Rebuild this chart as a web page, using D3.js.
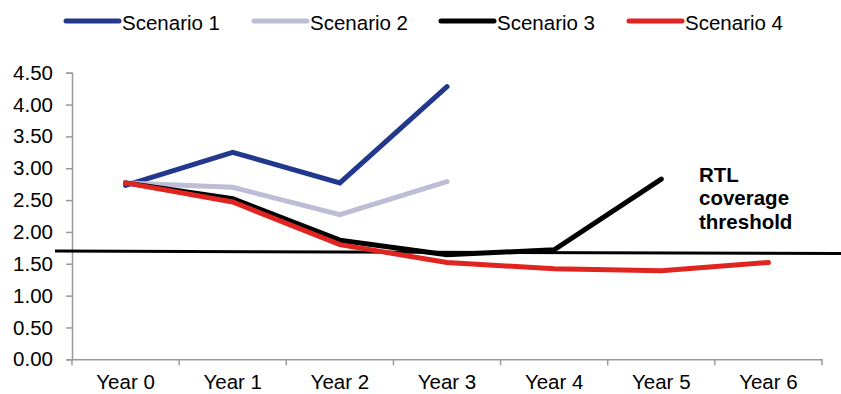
<!DOCTYPE html>
<html>
<head>
<meta charset="utf-8">
<script src="https://cdn.jsdelivr.net/npm/d3@7"></script>
<style>
  html, body { margin: 0; padding: 0; background: #fff; }
  svg { display: block; font-family: Arial, "Liberation Sans", sans-serif; }
</style>
</head>
<body>
<svg id="chart" width="841" height="394"></svg>
<script>
// Categories and series values
const years = ["Year 0", "Year 1", "Year 2", "Year 3", "Year 4", "Year 5", "Year 6"];
const scenario1 = [2.73, 3.25, 2.77, 4.28];
const scenario2 = [2.77, 2.70, 2.27, 2.79];
const scenario3 = [2.77, 2.52, 1.87, 1.64, 1.72, 2.83];
const scenario4 = [2.77, 2.47, 1.80, 1.52, 1.42, 1.39, 1.52];
const seriesNames = ["Scenario 1", "Scenario 2", "Scenario 3", "Scenario 4"];
const seriesColors = ["#22388C", "#BEBDD6", "#000000", "#E02420"];
const yTicks = [0, 0.5, 1, 1.5, 2, 2.5, 3, 3.5, 4, 4.5];
// Coverage threshold level at the left and right ends of the plot
const thresholdValues = [1.70, 1.66];
const thresholdLabel = ["RTL", "coverage", "threshold"];

const svg = d3.select("#chart");
const W = 841, H = 394;
const margin = { left: 72, right: 19, top: 72.7, bottom: 34.7 };
const FONT = "Arial, 'Liberation Sans', sans-serif";
const FS = 20.5;

const x = d3.scaleBand().domain(years).range([margin.left, W - margin.right]);
const y = d3.scaleLinear().domain([0, 4.5]).range([H - margin.bottom, margin.top]);
const cx = d => x(d) + x.bandwidth() / 2;

// Y axis
const yAxis = svg.append("g")
  .attr("transform", `translate(${margin.left},0)`)
  .call(d3.axisLeft(y).tickValues(yTicks).tickFormat(d3.format(".2f")).tickSizeOuter(0).tickSize(6));
yAxis.select(".domain").attr("stroke", "#999").attr("stroke-width", 1.5);
yAxis.selectAll(".tick line").attr("stroke", "#999").attr("stroke-width", 1.5);
yAxis.selectAll(".tick text").attr("font-size", FS).attr("fill", "#000").attr("x", -19)
  .attr("font-family", FONT);

// X axis
const xAxis = svg.append("g")
  .attr("transform", `translate(0,${y(0)})`)
  .call(d3.axisBottom(x).tickSize(0).tickSizeOuter(0));
xAxis.select(".domain").attr("stroke", "#999").attr("stroke-width", 1.5);
xAxis.selectAll(".tick text").attr("font-size", FS).attr("fill", "#000").attr("y", 15)
  .attr("font-family", FONT);
// Boundary tick marks between categories
const bounds = years.map(d => x(d)).concat([x(years[years.length - 1]) + x.bandwidth()]);
svg.append("g").selectAll("line").data(bounds).join("line")
  .attr("x1", d => d).attr("x2", d => d)
  .attr("y1", y(0)).attr("y2", y(0) + 6)
  .attr("stroke", "#999").attr("stroke-width", 1.5);

// Threshold line
svg.append("line")
  .attr("x1", 55).attr("x2", W)
  .attr("y1", y(thresholdValues[0])).attr("y2", y(thresholdValues[1]))
  .attr("stroke", "#000").attr("stroke-width", 3);

// Series lines
const line = d3.line().x((d, i) => cx(years[i])).y(d => y(d));
const allSeries = [scenario1, scenario2, scenario3, scenario4];
allSeries.forEach((vals, k) => {
  svg.append("path")
    .datum(vals)
    .attr("d", line)
    .attr("fill", "none")
    .attr("stroke", seriesColors[k])
    .attr("stroke-width", 5)
    .attr("stroke-linecap", "round")
    .attr("stroke-linejoin", "miter");
});

// Threshold label
const lbl = svg.append("text")
  .attr("x", 699).attr("y", 181.5)
  .attr("font-size", FS).attr("font-weight", "bold").attr("fill", "#000");
thresholdLabel.forEach((t, i) => {
  lbl.append("tspan").attr("x", 699).attr("dy", i === 0 ? 0 : 23.7).text(t);
});

// Legend
const legendX = [66, 254, 441, 629];
const legend = svg.append("g");
seriesNames.forEach((name, k) => {
  legend.append("line")
    .attr("x1", legendX[k]).attr("x2", legendX[k] + 53)
    .attr("y1", 21).attr("y2", 21)
    .attr("stroke", seriesColors[k]).attr("stroke-width", 5)
    .attr("stroke-linecap", "round");
  legend.append("text")
    .attr("x", legendX[k] + 56).attr("y", 30)
    .attr("font-size", FS).attr("fill", "#000")
    .text(name);
});
</script>
</body>
</html>
